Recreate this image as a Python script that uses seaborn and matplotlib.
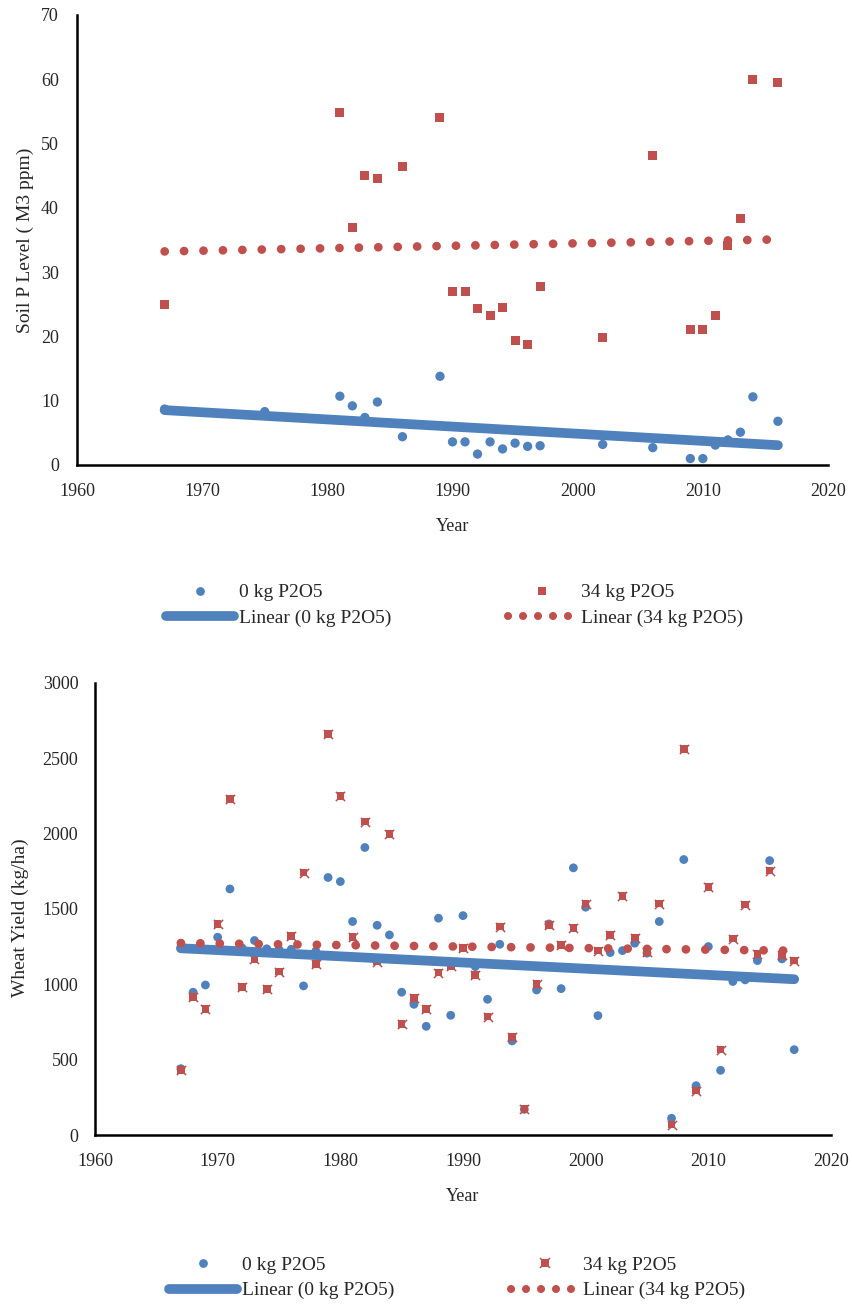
import numpy as np
import pandas as pd
import matplotlib
matplotlib.use("Agg")
import matplotlib.pyplot as plt
from matplotlib.lines import Line2D
import seaborn as sns

# ---------------- data ----------------
# Soil P level (M3 ppm)
soil_years_0 = [1967, 1975, 1981, 1982, 1983, 1984, 1986, 1989, 1990, 1991, 1992, 1993,
                1994, 1995, 1996, 1997, 2002, 2006, 2009, 2010, 2011, 2012, 2013, 2014, 2016]
soil_p_0 = [8.7, 8.3, 10.7, 9.2, 7.4, 9.8, 4.4, 13.8, 3.6, 3.6, 1.7, 3.6,
            2.5, 3.4, 2.9, 3.0, 3.2, 2.7, 1.0, 1.0, 3.1, 3.9, 5.1, 10.6, 6.8]
soil_years_34 = [1967, 1981, 1982, 1983, 1984, 1986, 1989, 1990, 1991, 1992, 1993, 1994,
                 1995, 1996, 1997, 2002, 2006, 2009, 2010, 2011, 2012, 2013, 2014, 2016]
soil_p_34 = [25.0, 54.9, 36.9, 45.0, 44.5, 46.5, 54.1, 27.0, 27.0, 24.3, 23.2, 24.5,
             19.4, 18.8, 27.7, 19.8, 48.2, 21.1, 21.1, 23.3, 34.1, 38.4, 59.9, 59.5]

# Wheat yield (kg/ha)
yield_years = list(range(1967, 2018))
yield_0 = [440, 947, 995, 1312, 1632, 1240, 1290, 1235, 1230, 1232, 989, 1220,
           1708, 1681, 1416, 1907, 1391, 1327, 947, 867, 721, 1438, 794, 1455,
           1117, 900, 1265, 624, 170, 962, 1400, 971, 1772, 1511, 792, 1210,
           1223, 1272, 1206, 1416, 111, 1827, 327, 1250, 429, 1018, 1029, 1157,
           1820, 1168, 566]
yield_34 = [431, 914, 834, 1400, 2230, 980, 1166, 967, 1084, 1320, 1741, 1133,
            2659, 2250, 1312, 2079, 1150, 1997, 737, 907, 834, 1077, 1121, 1239,
            1062, 785, 1382, 648, 172, 1000, 1393, 1261, 1374, 1535, 1223, 1327,
            1586, 1309, 1212, 1535, 69, 2561, 294, 1644, 566, 1303, 1528, 1199,
            1754, 1192, 1157]

labels = ["0 kg P2O5", "Linear (0 kg P2O5)", "34 kg P2O5", "Linear (34 kg P2O5)"]
x_ticks = [1960, 1970, 1980, 1990, 2000, 2010, 2020]
soil_ticks = [0, 10, 20, 30, 40, 50, 60, 70]
yield_ticks = [0, 500, 1000, 1500, 2000, 2500, 3000]

# ---------------- style ----------------
sns.set_style("white")
plt.rcParams["font.family"] = ["Liberation Serif", "DejaVu Serif"]
BLUE = "#4F81BD"
RED = "#C0504D"
TXT = "#262626"
FS = 13
FS_TITLE = 14
FS_LEG = 14

fig = plt.figure(figsize=(8.53, 13.06), dpi=100)
W, H = 853.0, 1306.0
ax1 = fig.add_axes([77 / W, 1 - 465 / H, 751 / W, 450 / H])
ax2 = fig.add_axes([95 / W, 1 - 1135 / H, 736 / W, 452.3 / H])


def trend(ax, xs, ys, color, dotted):
    xs = np.asarray(xs, float)
    ys = np.asarray(ys, float)
    k, b = np.polyfit(xs, ys, 1)
    xx = np.array([xs.min(), xs.max()])
    if dotted:
        ax.plot(xx, k * xx + b, color=color, lw=6.3, linestyle=(0, (0.01, 2.21)),
                dash_capstyle="round", zorder=4)
    else:
        ax.plot(xx, k * xx + b, color=color, lw=7, solid_capstyle="round", zorder=3)


def style_axes(ax, yticks, ylabel, ylab_xy, ypad):
    ax.set_xlim(1960, 2020)
    ax.set_ylim(yticks[0], yticks[-1])
    ax.set_xticks(x_ticks)
    ax.set_yticks(yticks)
    ax.grid(False)
    for s in ["top", "right"]:
        ax.spines[s].set_visible(False)
    for s in ["left", "bottom"]:
        ax.spines[s].set_color("black")
        ax.spines[s].set_linewidth(1.8)
    ax.tick_params(axis="x", length=0, pad=13, labelsize=FS, labelcolor=TXT)
    ax.tick_params(axis="y", length=0, pad=ypad, labelsize=FS, labelcolor=TXT)
    ax.set_xlabel("Year", fontsize=FS, color=TXT, labelpad=13)
    ax.set_ylabel(ylabel, fontsize=FS_TITLE, color=TXT)
    ax.yaxis.set_label_coords(*ylab_xy)
    ax.set_facecolor("white")


# ---- top chart ----
d0 = pd.DataFrame({"Year": soil_years_0, "P": soil_p_0})
d34 = pd.DataFrame({"Year": soil_years_34, "P": soil_p_34})
sns.scatterplot(data=d0, x="Year", y="P", ax=ax1, color=BLUE, marker="o", s=45,
                edgecolor="none", zorder=2)
sns.scatterplot(data=d34, x="Year", y="P", ax=ax1, color=RED, marker="s", s=42,
                edgecolor="none", zorder=2)
trend(ax1, soil_years_0, soil_p_0, BLUE, False)
trend(ax1, soil_years_34, soil_p_34, RED, True)
style_axes(ax1, soil_ticks, "Soil P Level ( M3 ppm)", (-0.057, 0.50), 13)

# ---- bottom chart ----
y0 = pd.DataFrame({"Year": yield_years, "Y": yield_0})
y34 = pd.DataFrame({"Year": yield_years, "Y": yield_34})
sns.scatterplot(data=y0, x="Year", y="Y", ax=ax2, color=BLUE, marker="o", s=40,
                edgecolor="none", zorder=2)
sns.scatterplot(data=y34, x="Year", y="Y", ax=ax2, color=RED, marker="s", s=30,
                edgecolor="none", zorder=2)
sns.scatterplot(data=y34, x="Year", y="Y", ax=ax2, color=RED, marker="x", s=44,
                linewidth=1.1, zorder=2)
trend(ax2, yield_years, yield_0, BLUE, False)
trend(ax2, yield_years, yield_34, RED, True)
style_axes(ax2, yield_ticks, "Wheat Yield (kg/ha)", (-0.090, 0.48), 12)


# ---- legends ----
def make_legend(ax, bottom, anchor):
    h0 = Line2D([], [], linestyle="none", marker="o", color=BLUE, markersize=6.3,
                markeredgewidth=0)
    h1 = Line2D([], [], color=BLUE, lw=7, solid_capstyle="round")
    if bottom:
        h2 = (Line2D([], [], linestyle="none", marker="s", color=RED, markersize=5.3,
                     markeredgewidth=0),
              Line2D([], [], linestyle="none", marker="x", color=RED, markersize=6.6,
                     markeredgewidth=1.1))
    else:
        h2 = Line2D([], [], linestyle="none", marker="s", color=RED, markersize=6.3,
                    markeredgewidth=0)
    h3 = Line2D([], [], color=RED, lw=5.8, linestyle=(0, (0.01, 1.85)),
                dash_capstyle="round")
    leg = ax.legend([h0, h1, h2, h3], labels, ncol=2, loc="center",
                    bbox_to_anchor=anchor, frameon=False, fontsize=FS_LEG,
                    handlelength=3.5, handletextpad=0.25, columnspacing=6.0,
                    labelspacing=0.4, numpoints=1)
    for t in leg.get_texts():
        t.set_color(TXT)
    return leg


make_legend(ax1, False, (0.503, -0.312))
make_legend(ax2, True, (0.492, -0.316))

fig.savefig("out.png", dpi=100, facecolor="white")
